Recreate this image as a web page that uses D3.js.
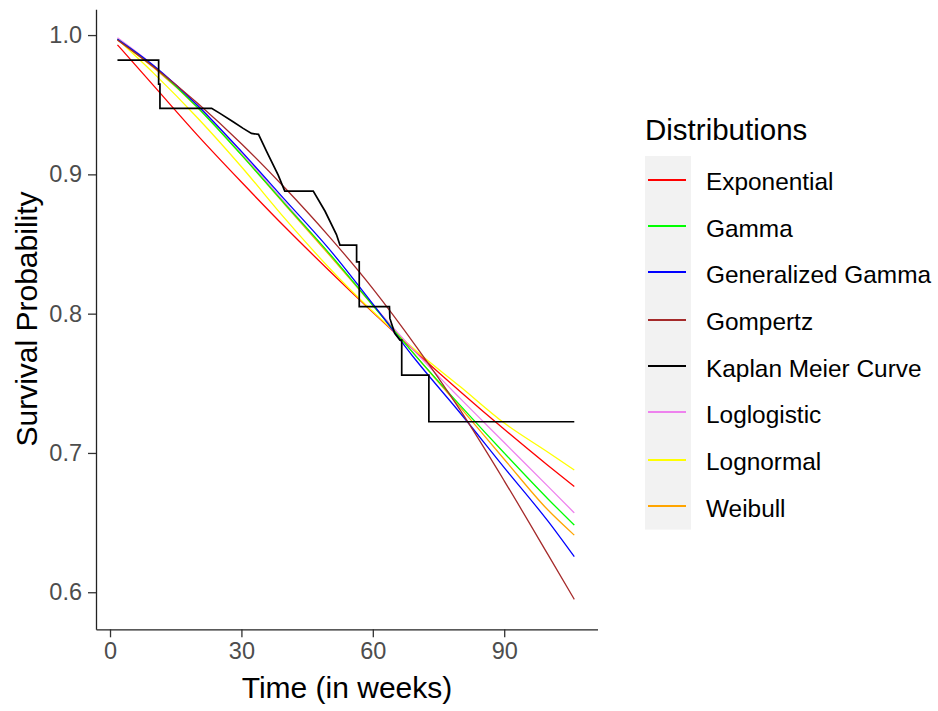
<!DOCTYPE html>
<html><head><meta charset="utf-8">
<script src="https://cdn.jsdelivr.net/npm/d3@7"></script>
<style>body{margin:0;background:#fff;} text{font-family:"Liberation Sans",Arial,sans-serif;}</style>
</head><body><svg id="c" width="938" height="711"></svg>
<script>
// ---- data ----
const weeks = [1.7, 10, 20, 30, 40, 50, 60, 70, 80, 90, 100, 106];
const exponential = [0.9930, 0.9635, 0.928, 0.8945, 0.862, 0.831, 0.801, 0.772, 0.744, 0.717, 0.691, 0.676];
const gamma       = [0.997, 0.9775, 0.948, 0.914, 0.8785, 0.8435, 0.806, 0.769, 0.734, 0.700, 0.667, 0.6482];
const genGamma    = [0.997, 0.978, 0.9495, 0.9165, 0.8815, 0.8465, 0.807, 0.766, 0.7285, 0.6895, 0.651, 0.6255];
const gompertz    = [0.9965, 0.977, 0.951, 0.922, 0.890, 0.8555, 0.818, 0.776, 0.7305, 0.680, 0.627, 0.5949];
const loglogistic = [0.998, 0.978, 0.9495, 0.9155, 0.8795, 0.843, 0.8065, 0.7715, 0.739, 0.7075, 0.676, 0.657];
const lognormal   = [0.997, 0.9725, 0.9405, 0.9055, 0.868, 0.833, 0.8015, 0.773, 0.7475, 0.7215, 0.7005, 0.6877];
const weibull     = [0.9965, 0.9765, 0.948, 0.914, 0.878, 0.8425, 0.806, 0.769, 0.7325, 0.6955, 0.659, 0.641];
// Kaplan-Meier curve vertices
const kmTime = [1.7, 11.1, 11.1, 11.4, 11.4, 23.2, 25.1, 28.1, 30.4, 32.3, 33.9, 35.8, 38.4, 39.9, 46.4, 49.1, 51.7, 52.5, 56.3, 56.3, 56.9, 56.9, 63.8, 63.9, 65.0, 66.2, 66.6, 66.6, 72.8, 72.8, 106];
const kmSurv = [0.982, 0.982, 0.9648, 0.9648, 0.9474, 0.9474, 0.9438, 0.9378, 0.933, 0.9294, 0.9287, 0.9162, 0.8995, 0.888, 0.888, 0.8735, 0.8568, 0.8492, 0.8492, 0.8372, 0.8372, 0.805, 0.805, 0.7966, 0.7859, 0.781, 0.781, 0.7559, 0.7559, 0.7224, 0.7224];

const legendNames  = ["Exponential", "Gamma", "Generalized Gamma", "Gompertz", "Kaplan Meier Curve", "Loglogistic", "Lognormal", "Weibull"];
const legendColors = ["#FF0000", "#00FF00", "#0000FF", "#A52A2A", "#000000", "#EE82EE", "#FFFF00", "#FFA500"];
const xTicks = [0, 30, 60, 90];
const yTicks = [0.6, 0.7, 0.8, 0.9, 1.0];

// ---- drawing ----
const svg = d3.select("#c");
const x = d3.scaleLinear().domain([-3.2, 111.3]).range([96, 597.5]);
const y = d3.scaleLinear().domain([0.5734, 1.0185]).range([629.3, 9.3]);

const fits = [
  {name: "Exponential", vals: exponential},
  {name: "Lognormal", vals: lognormal},
  {name: "Loglogistic", vals: loglogistic},
  {name: "Weibull", vals: weibull},
  {name: "Gamma", vals: gamma},
  {name: "Generalized Gamma", vals: genGamma},
  {name: "Gompertz", vals: gompertz}
];
const colorOf = n => legendColors[legendNames.indexOf(n)];

const line = d3.line().x(d => x(d[0])).y(d => y(d[1])).curve(d3.curveMonotoneX);
fits.forEach(f => {
  svg.append("path")
    .datum(weeks.map((t, i) => [t, f.vals[i]]))
    .attr("d", line)
    .attr("fill", "none")
    .attr("stroke", colorOf(f.name))
    .attr("stroke-width", 1.3);
});

const kmLine = d3.line().x(d => x(d[0])).y(d => y(d[1]));
svg.append("path")
  .datum(kmTime.map((t, i) => [t, kmSurv[i]]))
  .attr("d", kmLine)
  .attr("fill", "none")
  .attr("stroke", "#000")
  .attr("stroke-width", 1.7);

// axes
const xAxis = svg.append("g").attr("transform", "translate(0,629.3)")
  .call(d3.axisBottom(x).tickValues(xTicks).tickFormat(d3.format("d")).tickSize(8).tickSizeOuter(0).tickPadding(5));
const yAxis = svg.append("g").attr("transform", "translate(96,0)")
  .call(d3.axisLeft(y).tickValues(yTicks).tickFormat(d3.format(".1f")).tickSize(8).tickSizeOuter(0).tickPadding(6));
[xAxis, yAxis].forEach(a => {
  a.select(".domain").attr("stroke", "#222").attr("stroke-width", 1.3);
  a.selectAll(".tick line").attr("stroke", "#333").attr("stroke-width", 1.3);
  a.selectAll(".tick text").attr("fill", "#4d4d4d").style("font-size", "23.5px")
    .style("font-family", "'Liberation Sans', Arial, sans-serif");
});

// axis titles
svg.append("text").attr("x", 347).attr("y", 698).attr("text-anchor", "middle")
  .style("font-size", "30px").attr("fill", "#000").text("Time (in weeks)");
svg.append("text").attr("transform", "translate(37,319) rotate(-90)").attr("text-anchor", "middle")
  .style("font-size", "30px").attr("fill", "#000").text("Survival Probability");

// legend
svg.append("text").attr("x", 645).attr("y", 139.5).style("font-size", "29.5px").attr("fill", "#000").text("Distributions");
const keyH = 46.7, keyTop = 156;
svg.append("rect").attr("x", 645).attr("y", keyTop).attr("width", 46).attr("height", keyH * legendNames.length).attr("fill", "#f2f2f2");
legendNames.forEach((n, i) => {
  const cy = keyTop + keyH * i + keyH / 2;
  const ly = 2 * Math.round(cy / 2);
  svg.append("line").attr("x1", 648).attr("x2", 686).attr("y1", ly).attr("y2", ly)
    .attr("stroke", legendColors[i]).attr("stroke-width", 2).attr("shape-rendering", "crispEdges");
  svg.append("text").attr("x", 706).attr("y", cy + 10.5).style("font-size", "24.4px").attr("fill", "#000").text(n);
});
</script></body></html>
